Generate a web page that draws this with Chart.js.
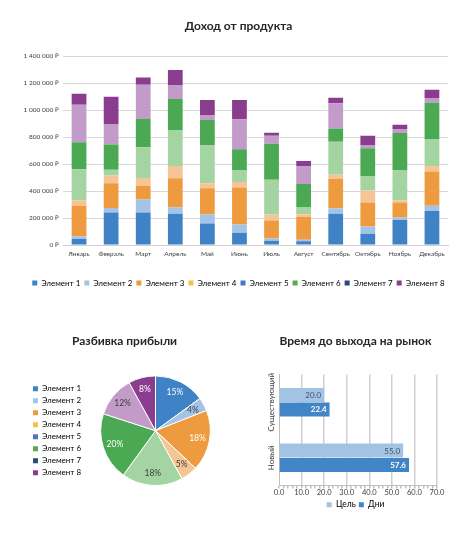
<!DOCTYPE html>
<html>
<head>
<meta charset="utf-8">
<script src="https://cdn.jsdelivr.net/npm/chart.js@4/dist/chart.umd.min.js"></script>
<style>
  body { margin: 0; background: #fff; }
  .box { position: absolute; }
</style>
</head>
<body>
<div class="box" style="left:0;top:0;width:474px;height:305px"><canvas id="revenue" width="474" height="305"></canvas></div>
<div class="box" style="left:0;top:315px;width:237px;height:218px"><canvas id="profit" width="237" height="218"></canvas></div>
<div class="box" style="left:237px;top:315px;width:237px;height:218px"><canvas id="market" width="237" height="218"></canvas></div>
<script>
const months = ['Январь','Февраль','Март','Апрель','Май','Июнь','Июль','Август','Сентябрь','Октябрь','Ноябрь','Декабрь'];
const itemNames = ['Элемент 1','Элемент 2','Элемент 3','Элемент 4','Элемент 5','Элемент 6','Элемент 7','Элемент 8'];

const el1 = [45000,242000,242000,232000,160000,91000,32000,27000,232000,84000,185000,252000];
const el2 = [20000,32000,96000,49000,67000,62000,17000,12000,40000,54000,20000,40000];
const el3 = [225000,185000,101000,215000,195000,274000,133000,170000,220000,178000,111000,254000];
const el4 = [42000,57000,59000,91000,37000,40000,44000,20000,30000,89000,15000,40000];
const el5 = [230000,42000,227000,267000,284000,86000,259000,49000,244000,104000,222000,198000];
const el6 = [200000,188000,210000,230000,185000,158000,267000,175000,99000,210000,279000,272000];
const el7 = [279000,153000,254000,104000,37000,222000,59000,133000,188000,20000,25000,35000];
const el8 = [81000,202000,54000,111000,111000,143000,22000,37000,40000,72000,35000,62000];

const profitShare = [15,4,18,5,18,20,12,8];

const marketCats = ['Существующий','Новый'];
const targetDays = [20.0,55.0];
const actualDays = [22.4,57.6];
const seriesNames = ['Цель','Дни'];

const fillColors = ['#3f82c6','#a3c4e6','#ee9a3e','#f6c596','#a5d4a3','#4aa952','#c39bc8','#8a3d8f'];
const legendColors = ['#3f82c6','#a3c4e6','#ee9a3e','#f5c342','#4a78bf','#5aa94f','#284a78','#8a3d8f'];
const pieTextColors = ['#fff','#404040','#fff','#404040','#404040','#fff','#404040','#fff'];

const FONT = 'Lato, "Open Sans", sans-serif';
const TXT = '#404040';
Chart.defaults.font.family = FONT;
Chart.defaults.color = TXT;

function rub(v) {
  return String(v).replace(/\B(?=(\d{3})+(?!\d))/g, ' ') + ' ₽';
}

function legendFrom(chart) {
  return chart.data.datasets.length > 1
    ? chart.data.datasets.map((d, i) => ({ text: d.label, fillStyle: legendColors[i], strokeStyle: legendColors[i], lineWidth: 0, datasetIndex: i }))
    : chart.data.labels.map((l, i) => ({ text: l, fillStyle: legendColors[i], strokeStyle: legendColors[i], lineWidth: 0, index: i }));
}

// empty axis used only as a right margin
function spacer(w) {
  return {
    type: 'linear', position: 'right', display: true,
    ticks: { display: false }, grid: { display: false }, border: { display: false },
    afterFit(s) { s.width = w; }
  };
}

// top: stacked columns
const series = [el1, el2, el3, el4, el5, el6, el7, el8];
new Chart(document.getElementById('revenue'), {
  type: 'bar',
  data: {
    labels: months,
    datasets: series.map((s, i) => ({
      label: itemNames[i],
      data: s,
      backgroundColor: fillColors[i],
      categoryPercentage: 1,
      barPercentage: 0.46
    }))
  },
  options: {
    responsive: false,
    animation: false,
    layout: { padding: { left: 3, right: 0, bottom: 8 } },
    plugins: {
      title: { display: true, text: 'Доход от продукта', font: { size: 12, weight: 'bold' }, color: '#262626', padding: { top: 19, bottom: 23 } },
      legend: {
        position: 'bottom',
        labels: { boxWidth: 5, boxHeight: 5, padding: 4, font: { size: 8 }, generateLabels: legendFrom }
      },
      tooltip: { enabled: false }
    },
    scales: {
      x: {
        stacked: true,
        grid: { display: false, drawTicks: false },
        border: { color: '#d0d0d0' },
        ticks: { font: { size: 6.5 }, maxRotation: 0, autoSkip: false, padding: 5 },
        afterFit(s) { s.height = 30; }
      },
      y: {
        stacked: true,
        min: 0, max: 1400000,
        ticks: { stepSize: 200000, font: { size: 6.5 }, callback: rub, padding: 4 },
        grid: { color: '#d9d9d9', drawTicks: false },
        border: { display: false },
        afterFit(s) { s.width = 60; }
      },
      spacer: spacer(26)
    }
  }
});

// bottom-left: pie
const pieLabels = {
  id: 'pieLabels',
  afterDatasetsDraw(chart) {
    const ctx = chart.ctx;
    const meta = chart.getDatasetMeta(0);
    ctx.save();
    ctx.font = '8.5px ' + FONT;
    ctx.textAlign = 'center';
    ctx.textBaseline = 'middle';
    meta.data.forEach((arc, i) => {
      const a = (arc.startAngle + arc.endAngle) / 2;
      const r = arc.outerRadius * 0.78;
      ctx.fillStyle = pieTextColors[i];
      ctx.fillText(profitShare[i] + '%', arc.x + Math.cos(a) * r, arc.y + Math.sin(a) * r);
    });
    ctx.restore();
  }
};

new Chart(document.getElementById('profit'), {
  type: 'pie',
  data: {
    labels: itemNames,
    datasets: [{ data: profitShare, backgroundColor: fillColors, borderColor: '#fff', borderWidth: 1 }]
  },
  options: {
    responsive: false,
    animation: false,
    layout: { padding: { left: 29, right: 17, top: 0, bottom: 47 } },
    plugins: {
      title: { display: true, text: 'Разбивка прибыли', font: { size: 12, weight: 'bold' }, color: '#262626', padding: { top: 19, bottom: 27 } },
      legend: {
        position: 'left',
        fullSize: false,
        labels: { boxWidth: 5, boxHeight: 5, padding: 4, font: { size: 8 }, generateLabels: legendFrom }
      },
      tooltip: { enabled: false }
    }
  },
  plugins: [pieLabels]
});

// bottom-right: horizontal bars
const barLabels = {
  id: 'barLabels',
  afterDatasetsDraw(chart) {
    const ctx = chart.ctx;
    ctx.save();
    ctx.textAlign = 'right';
    ctx.textBaseline = 'middle';
    chart.data.datasets.forEach((ds, di) => {
      chart.getDatasetMeta(di).data.forEach((bar, i) => {
        ctx.font = (di === 1 ? 'bold ' : '') + '8px ' + FONT;
        ctx.fillStyle = di === 1 ? '#fff' : '#44546a';
        ctx.fillText(ds.data[i].toFixed(1), bar.x - 3, bar.y + 0.5);
      });
    });
    // rotated category names, centred on each category
    const ys = chart.scales.y;
    ctx.font = '8px ' + FONT;
    ctx.fillStyle = TXT;
    ctx.textAlign = 'center';
    chart.data.labels.forEach((lab, i) => {
      ctx.save();
      ctx.translate(ys.right - 8, ys.getPixelForValue(i));
      ctx.rotate(-Math.PI / 2);
      ctx.fillText(lab, 0, 0);
      ctx.restore();
    });
    ctx.restore();
  }
};

new Chart(document.getElementById('market'), {
  type: 'bar',
  data: {
    labels: marketCats,
    datasets: [
      { label: seriesNames[0], data: targetDays, backgroundColor: '#a3c3e4', categoryPercentage: 0.52, barPercentage: 0.97 },
      { label: seriesNames[1], data: actualDays, backgroundColor: '#4185c7', categoryPercentage: 0.52, barPercentage: 0.97 }
    ]
  },
  options: {
    indexAxis: 'y',
    responsive: false,
    animation: false,
    layout: { padding: { left: 0, right: 0, bottom: 14 } },
    plugins: {
      title: { display: true, text: 'Время до выхода на рынок', font: { size: 12, weight: 'bold' }, color: '#262626', padding: { top: 19, bottom: 26 } },
      legend: {
        position: 'bottom',
        labels: { boxWidth: 5, boxHeight: 5, padding: 3, font: { size: 8.5 }, generateLabels(chart) {
          return chart.data.datasets.map((d, i) => ({ text: d.label, fillStyle: d.backgroundColor, strokeStyle: d.backgroundColor, lineWidth: 0, datasetIndex: i }));
        } }
      },
      tooltip: { enabled: false }
    },
    scales: {
      x: {
        min: 0, max: 70,
        ticks: {
          stepSize: 2, autoSkip: false, maxRotation: 0, font: { size: 7.5 }, padding: 0,
          callback: v => (v % 10 === 0 ? v.toFixed(1) : '')
        },
        grid: {
          color: c => (c.tick && c.tick.value % 10 === 0 && c.tick.value > 0 ? '#d0d0d0' : 'rgba(0,0,0,0)'),
          lineWidth: 1.5,
          tickColor: '#bfbfbf', tickLength: 3
        },
        border: { color: '#bfbfbf' }
      },
      y: {
        ticks: { display: false },
        grid: { display: false },
        border: { color: '#bfbfbf' },
        afterFit(s) { s.width = 42; }
      },
      spacer: spacer(37)
    }
  },
  plugins: [barLabels]
});
</script>
</body>
</html>
